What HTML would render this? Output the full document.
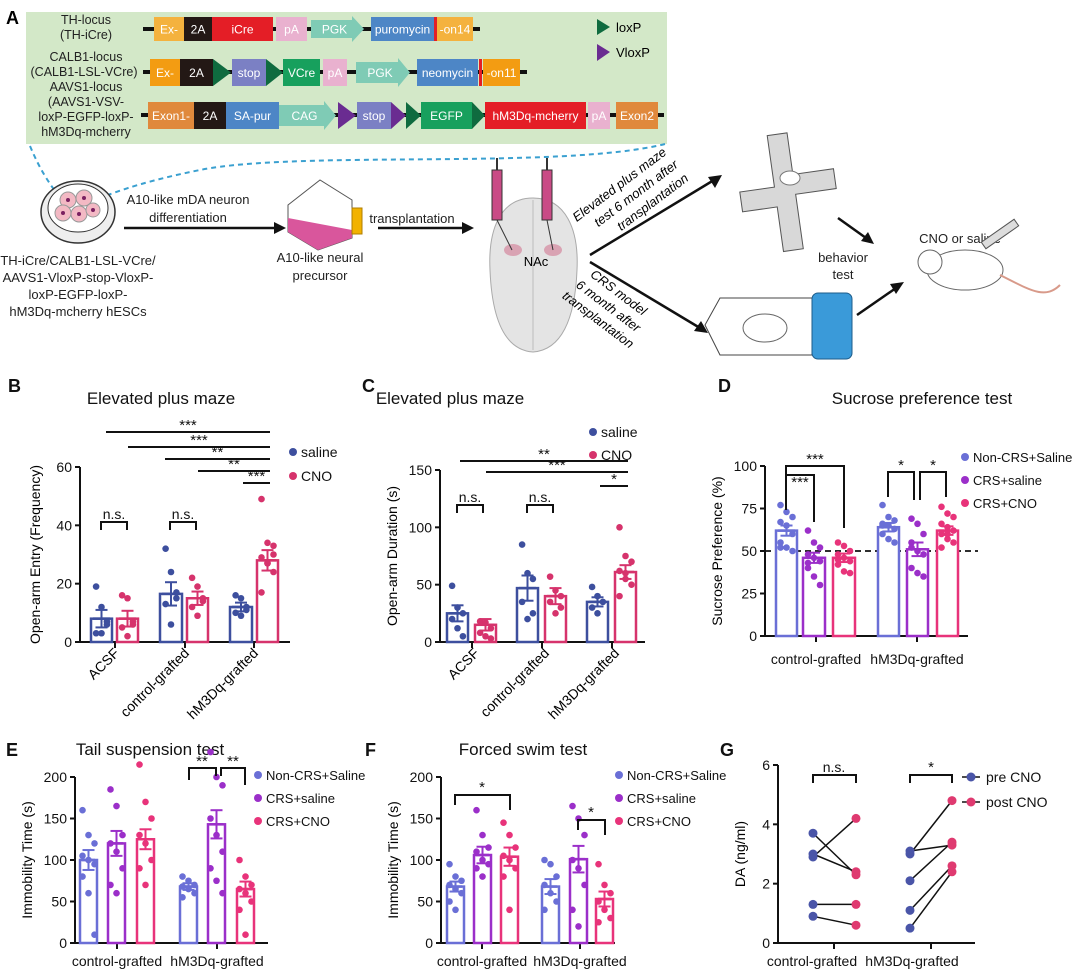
<!DOCTYPE html>
<html><head><meta charset="utf-8"><style>
html,body{margin:0;padding:0;background:#fff}
svg{display:block;font-family:"Liberation Sans",Arial,sans-serif}
</style></head><body>
<svg id="s" width="1080" height="974" viewBox="0 0 1080 974" xmlns="http://www.w3.org/2000/svg">
<rect width="1080" height="974" fill="#fff"/>
<!-- Panel A -->
<text x="6" y="24" font-size="18" font-weight="bold">A</text>
<rect x="26" y="12" width="641" height="132" fill="#d3e8c8"/>
<g font-size="12.5" text-anchor="middle" fill="#222">
<text x="86" y="24">TH-locus</text><text x="86" y="39">(TH-iCre)</text>
<text x="86" y="61">CALB1-locus</text><text x="84" y="76">(CALB1-LSL-VCre)</text>
<text x="86" y="91">AAVS1-locus</text><text x="86" y="106">(AAVS1-VSV-</text>
<text x="86" y="121">loxP-EGFP-loxP-</text><text x="86" y="136">hM3Dq-mcherry</text>
</g>
<g id="dna"></g>
<polygon points="597,19 610,27 597,35" fill="#0f6b3f"/><text x="616" y="32" font-size="13">loxP</text>
<polygon points="597,44 610,52 597,61" fill="#6a2c91"/><text x="616" y="57" font-size="13">VloxP</text>
<!-- dashed curves -->
<path d="M30,146 C40,170 50,185 62,200" stroke="#3aa0d0" stroke-width="2" stroke-dasharray="5,4" fill="none"/>
<path d="M665,144 C560,170 300,150 200,170 C150,180 120,190 100,198" stroke="#3aa0d0" stroke-width="2" stroke-dasharray="5,4" fill="none"/>
<!-- dish -->
<ellipse cx="78" cy="212" rx="37" ry="31" fill="#eee" stroke="#333" stroke-width="1.5"/>
<ellipse cx="78" cy="208" rx="30" ry="24" fill="#fff" stroke="#333"/>
<g fill="#f3b9c4" stroke="#999"><circle cx="68" cy="200" r="8"/><circle cx="84" cy="198" r="8"/><circle cx="63" cy="213" r="8"/><circle cx="79" cy="214" r="8"/><circle cx="93" cy="210" r="7"/></g>
<g fill="#7a2060"><circle cx="68" cy="200" r="2"/><circle cx="84" cy="198" r="2"/><circle cx="63" cy="213" r="2"/><circle cx="79" cy="214" r="2"/><circle cx="93" cy="210" r="2"/></g>
<g font-size="13" text-anchor="middle" fill="#222">
<text x="78" y="265">TH-iCre/CALB1-LSL-VCre/</text><text x="78" y="282">AAVS1-VloxP-stop-VloxP-</text>
<text x="78" y="299">loxP-EGFP-loxP-</text><text x="78" y="316">hM3Dq-mcherry hESCs</text>
<text x="188" y="204">A10-like mDA neuron</text><text x="188" y="222">differentiation</text>
<text x="320" y="262">A10-like neural</text><text x="320" y="280">precursor</text>
<text x="412" y="223">transplantation</text>
<text x="843" y="262">behavior</text><text x="843" y="279">test</text>
<text x="960" y="243">CNO or saline</text>
</g>
<g stroke="#111" stroke-width="2.5" fill="#111">
<line x1="124" y1="228" x2="278" y2="228"/><polygon points="286,228 274,222 274,234" stroke="none"/>
<line x1="378" y1="228" x2="465" y2="228"/><polygon points="474,228 462,222 462,234" stroke="none"/>
<line x1="590" y1="255" x2="714" y2="180"/><polygon points="722,175 708,177 715,188" stroke="none"/>
<line x1="590" y1="262" x2="700" y2="328"/><polygon points="708,333 701,321 694,331" stroke="none"/>
<line x1="838" y1="218" x2="866" y2="238"/><polygon points="874,244 861,241 868,232" stroke="none"/>
<line x1="857" y1="315" x2="896" y2="288"/><polygon points="904,282 890,284 896,294" stroke="none"/>
</g>
<!-- flask -->
<polygon points="288,205 320,180 352,200 352,238 318,250 288,232" fill="#fff" stroke="#555"/>
<polygon points="288,218 352,230 352,238 318,250 288,232" fill="#d9569c"/>
<rect x="352" y="208" width="10" height="26" fill="#f2b200" stroke="#b07d00"/>
<!-- brain -->
<path d="M533,198 C500,198 488,230 490,270 C492,320 505,350 533,352 C561,350 575,320 577,270 C579,230 566,198 533,198Z" fill="#e4e4e4" stroke="#aaa"/>
<line x1="533" y1="200" x2="533" y2="350" stroke="#bbb"/>
<ellipse cx="513" cy="250" rx="9" ry="6" fill="#d9a3b3"/><ellipse cx="553" cy="250" rx="9" ry="6" fill="#d9a3b3"/>
<text x="536" y="266" font-size="13" text-anchor="middle">NAc</text>
<rect x="492" y="170" width="10" height="50" fill="#c94b86" stroke="#333"/><line x1="497" y1="220" x2="512" y2="250" stroke="#333"/>
<rect x="542" y="170" width="10" height="50" fill="#c94b86" stroke="#333"/><line x1="547" y1="220" x2="553" y2="250" stroke="#333"/>
<line x1="497" y1="158" x2="497" y2="170" stroke="#333" stroke-width="2"/><line x1="547" y1="158" x2="547" y2="170" stroke="#333" stroke-width="2"/>
<g font-size="13" font-style="italic" text-anchor="middle">
<text transform="translate(622,188) rotate(-37)"><tspan x="0" y="0">Elevated plus maze</tspan><tspan x="8" y="17">test 6 month after</tspan><tspan x="16" y="34">transplantation</tspan></text>
<text transform="translate(616,296) rotate(37)"><tspan x="0" y="0">CRS model</tspan><tspan x="0" y="17">6 month after</tspan><tspan x="0" y="34">transplantation</tspan></text>
</g>
<!-- maze -->
<polygon points="775,133 795,133 795,175 836,175 836,195 795,195 795,250 775,250 775,205 740,205 740,185 775,185" fill="#d8d8d8" stroke="#555" transform="rotate(-8 790 190)"/>
<ellipse cx="790" cy="178" rx="10" ry="7" fill="#fff" stroke="#777"/>
<!-- tube -->
<polygon points="705,325 720,298 812,298 812,355 720,355" fill="#fff" stroke="#444"/>
<rect x="812" y="293" width="40" height="66" rx="6" fill="#3a9ad9" stroke="#1d5c8a"/>
<ellipse cx="765" cy="328" rx="22" ry="14" fill="#fff" stroke="#666"/>
<!-- mouse -->
<ellipse cx="965" cy="270" rx="38" ry="20" fill="#fff" stroke="#666"/>
<circle cx="930" cy="262" r="12" fill="#fff" stroke="#666"/>
<path d="M1000,275 C1030,290 1045,300 1060,285" stroke="#d89a8a" fill="none" stroke-width="2"/>
<rect x="980" y="230" width="40" height="8" fill="#ddd" stroke="#555" transform="rotate(-35 1000 234)"/>
<g id="charts"></g>
</svg>
<script>
const NS="http://www.w3.org/2000/svg";
function el(p,t,a,txt){const e=document.createElementNS(NS,t);for(const k in a)e.setAttribute(k,a[k]);if(txt!==undefined)e.textContent=txt;p.appendChild(e);return e;}
const dna=document.getElementById('dna');
function line(x1,x2,y){el(dna,'line',{x1,x2,y1:y,y2:y,stroke:'#111','stroke-width':4});}
function box(x1,x2,y1,y2,f,t,tc){el(dna,'rect',{x:x1,y:y1,width:x2-x1,height:y2-y1,fill:f});if(t)el(dna,'text',{x:(x1+x2)/2,y:(y1+y2)/2+4.5,'font-size':12,'text-anchor':'middle',fill:tc||'#fff'},t);}
function arr(x1,x2,y1,y2,t){const m=(y1+y2)/2;el(dna,'polygon',{points:`${x1},${y1+3} ${x2-12},${y1+3} ${x2-12},${y1-1} ${x2},${m} ${x2-12},${y2+1} ${x2-12},${y2-3} ${x1},${y2-3}`,fill:'#7fcbb5'});el(dna,'text',{x:(x1+x2)/2-3,y:m+4.5,'font-size':12,'text-anchor':'middle',fill:'#fff'},t);}
function tri(x1,x2,y1,y2,c){el(dna,'polygon',{points:`${x1},${y1} ${x2},${(y1+y2)/2} ${x1},${y2}`,fill:c});}
const OR='#f4b23e',BK='#231815',RD='#e41e26',PK='#e9b1cf',BL='#4d86c6',ST='#7b80c4',GR='#17a05d',DG='#0f6b3f',PU='#6a2c91',BR='#e0893c';
let a=17,b=41;line(143,480,29);box(154,184,a,b,OR,'Ex-');box(184,212,a,b,BK,'2A');box(212,273,a,b,RD,'iCre');box(276,307,a,b,PK,'pA');arr(311,364,a,b,'PGK');box(371,434,a,b,BL,'puromycin');box(434,437,a,b,RD);box(437,473,a,b,OR,'-on14');
a=59;b=86;line(143,527,72);box(150,180,a,b,'#f39c12','Ex-');box(180,213,a,b,BK,'2A');tri(213,231,a,b,DG);box(232,266,a,b,ST,'stop');tri(266,283,a,b,DG);box(283,320,a,b,GR,'VCre');box(323,347,a,b,PK,'pA');arr(356,410,a,b,'PGK');box(417,478,a,b,BL,'neomycin');box(479,482,a,b,RD);box(483,520,a,b,'#f39c12','-on11');
a=102;b=129;line(141,664,115);box(148,194,a,b,BR,'Exon1-');box(194,226,a,b,BK,'2A');box(226,279,a,b,BL,'SA-pur');arr(279,336,a,b,'CAG');tri(338,356,a,b,PU);box(357,391,a,b,ST,'stop');tri(391,406,a,b,PU);tri(406,421,a,b,DG);box(421,472,a,b,GR,'EGFP');tri(472,485,a,b,DG);box(485,586,a,b,RD,'hM3Dq-mcherry');box(588,610,a,b,PK,'pA');box(616,658,a,b,BR,'Exon2');

const C=document.getElementById('charts');
function T(x,y,s,o){o=o||{};el(C,'text',Object.assign({x,y,'font-size':o.fs||14,'text-anchor':o.a||'middle',fill:'#111'},o.at||{}),s);}
function L(x1,y1,x2,y2,w,c,d){const at={x1,y1,x2,y2,stroke:c||'#111','stroke-width':w||2};if(d)at['stroke-dasharray']=d;el(C,'line',at);}
function P(pts){el(C,'polyline',{points:pts,stroke:'#111','stroke-width':2,fill:'none'});}
function axis(x0,y0,yTop,xEnd,ticks,vmax,lab,labx){L(x0,yTop,x0,y0,2);L(x0,y0,xEnd,y0,2);
 ticks.forEach(t=>{const y=y0-(t/vmax)*(y0-yTop);L(x0-5,y,x0,y,2);T(x0-8,y+5,String(t),{a:'end',fs:14});});
 const cy=(y0+yTop)/2;el(C,'text',{x:0,y:0,'font-size':14,'text-anchor':'middle',transform:`translate(${labx},${cy}) rotate(-90)`},lab);}
function bar(x1,x2,y0,yTop,vmax,mean,sem,pts,col){const sy=v=>y0-v/vmax*(y0-yTop);
 el(C,'rect',{x:x1,y:sy(mean),width:x2-x1,height:y0-sy(mean),fill:'#fff',stroke:col,'stroke-width':2.5});
 const cx=(x1+x2)/2;L(cx,sy(mean+sem),cx,sy(mean-sem),2,col);L(cx-6,sy(mean+sem),cx+6,sy(mean+sem),2,col);L(cx-6,sy(mean-sem),cx+6,sy(mean-sem),2,col);L(x1+2,sy(mean),x2-2,sy(mean),2.5,col);
 pts.forEach((v,i)=>el(C,'circle',{cx:cx+((i%3)-1)*6*(pts.length>6?1:0.9),cy:sy(v),r:3.3,fill:col}));}
function dot(x,y,c,t,fs){el(C,'circle',{cx:x,cy:y,r:4,fill:c});T(x+8,y+5,t,{a:'start',fs:fs||14});}
function sig(x1,x2,y,s){L(x1,y,x2,y,2);T((x1+x2)/2,y-2,s,{fs:15});}
function rlab(x,y,s){el(C,'text',{x:0,y:0,'font-size':14,'text-anchor':'end',transform:`translate(${x},${y}) rotate(-45)`},s);}
const SB='#3d4f9e',CP='#d6336c',NB='#6a6fd6',PP='#9b2fc9',PK2='#e8337a';
// B
T(8,392,'B',{a:'start',fs:18,at:{'font-weight':'bold'}});T(161,404,'Elevated plus maze',{fs:17});
axis(80,642,467,290,[0,20,40,60],60,'Open-arm Entry (Frequency)',40);
[[115,254,185]].forEach(()=>{});[115,185,254].forEach(x=>L(x,642,x,648,2));
bar(91,112,642,467,60,8,3,[19,12,6,3,3,7],SB);bar(117,138,642,467,60,8,2.7,[16,15,7,5,2,6],CP);
bar(160,182,642,467,60,16.5,4,[32,24,15,13,6,17],SB);bar(187,208,642,467,60,15,2.3,[22,19,15,12,9,14],CP);
bar(230,252,642,467,60,12,1.5,[16,15,12,10,9,11],SB);bar(257,278,642,467,60,28,3.5,[49,34,33,29,27,24,17,27,30],CP);
sig(106,270,432,'***');sig(128,270,447,'***');sig(165,270,459,'**');sig(198,270,471,'**');sig(243,270,483,'***');
P('101,530 101,522 127,522 127,530');T(114,519,'n.s.',{fs:14});P('170,530 170,522 196,522 196,530');T(183,519,'n.s.',{fs:14});
dot(293,452,SB,'saline');dot(293,476,CP,'CNO');
rlab(120,654,'ACSF');rlab(190,654,'control-grafted');rlab(259,654,'hM3Dq-grafted');
// C
T(362,392,'C',{a:'start',fs:18,at:{'font-weight':'bold'}});T(450,404,'Elevated plus maze',{fs:17});
axis(440,642,470,645,[0,50,100,150],150,'Open-arm Duration (s)',397);
[472,542,612].forEach(x=>L(x,642,x,648,2));
bar(447,468,642,470,150,25,7,[49,30,25,20,12,5],SB);bar(475,496,642,470,150,15,5,[18,17,12,8,5,3],CP);
bar(517,538,642,470,150,47,11,[85,60,55,35,20,25],SB);bar(545,566,642,470,150,40,7,[57,45,40,35,25,30],CP);
bar(587,608,642,470,150,35,4,[48,40,35,30,25],SB);bar(615,636,642,470,150,61,6,[100,75,70,62,55,50,40,60],CP);
sig(460,628,461,'**');sig(486,628,472,'***');sig(600,628,486,'*');
P('457,513 457,505 483,505 483,513');T(470,502,'n.s.',{fs:14});P('527,513 527,505 553,505 553,513');T(540,502,'n.s.',{fs:14});
dot(593,432,SB,'saline');dot(593,455,CP,'CNO');
rlab(480,654,'ACSF');rlab(550,654,'control-grafted');rlab(620,654,'hM3Dq-grafted');
// D
T(718,392,'D',{a:'start',fs:18,at:{'font-weight':'bold'}});T(922,404,'Sucrose preference test',{fs:17});
axis(765,636,466,968,[0,25,50,75,100],100,'Sucrose Preference  (%)',722);
[816,917].forEach(x=>L(x,636,x,642,2));
L(765,551,978,551,1.8,'#111','6,4');
bar(776,797,636,466,100,62,3,[77,73,70,67,65,60,55,52,50,52],NB);bar(803,825,636,466,100,46,3,[62,55,52,48,46,44,40,35,30,43],PP);bar(833,855,636,466,100,46,2.5,[55,53,50,48,46,44,42,38,37,45],PK2);
bar(878,899,636,466,100,64,2.5,[77,70,68,66,65,63,60,57,55,65],NB);bar(907,928,636,466,100,51,4,[69,66,60,55,50,48,40,37,35,52],PP);bar(937,958,636,466,100,62,2.5,[76,72,70,66,64,62,60,57,55,52,60],PK2);
P('786,510 786,466 844,466 844,528');T(815,464,'***',{fs:15});P('786,475 814,475 814,522');T(800,487,'***',{fs:15});
P('888,497 888,472 914,472 914,500');T(901,470,'*',{fs:15});P('920,500 920,472 946,472 946,497');T(933,470,'*',{fs:15});
dot(965,457,NB,'Non-CRS+Saline',13);dot(965,480,PP,'CRS+saline',13);dot(965,503,PK2,'CRS+CNO',13);
T(816,664,'control-grafted',{fs:14});T(917,664,'hM3Dq-grafted',{fs:14});
// E
T(6,756,'E',{a:'start',fs:18,at:{'font-weight':'bold'}});T(150,755,'Tail suspension test',{fs:17});
axis(75,943,777,268,[0,50,100,150,200],200,'Immobility Time (s)',32);
[117,217].forEach(x=>L(x,943,x,949,2));
bar(80,97,943,777,200,100,12,[160,130,120,105,100,95,80,60,10],NB);bar(108,125,943,777,200,120,15,[185,165,130,120,110,90,70,60],PP);bar(137,154,943,777,200,125,12,[215,170,150,130,120,100,90,70],PK2);
bar(180,197,943,777,200,68,4,[80,75,70,68,65,60,55],NB);bar(208,225,943,777,200,143,17,[230,200,190,150,130,110,90,75,60],PP);bar(237,254,943,777,200,65,9,[100,80,70,65,60,50,40,10],PK2);
P('189,780 189,768 216,768 216,776');T(202,766,'**',{fs:15});P('221,776 221,768 245,768 245,785');T(233,766,'**',{fs:15});
dot(258,775,NB,'Non-CRS+Saline',13);dot(258,798,PP,'CRS+saline',13);dot(258,821,PK2,'CRS+CNO',13);
T(117,966,'control-grafted',{fs:14});T(217,966,'hM3Dq-grafted',{fs:14});
// F
T(365,756,'F',{a:'start',fs:18,at:{'font-weight':'bold'}});T(523,755,'Forced swim test',{fs:17});
axis(441,943,777,615,[0,50,100,150,200],200,'Immobility Time (s)',398);
[482,580].forEach(x=>L(x,943,x,949,2));
bar(447,464,943,777,200,68,6,[95,80,75,70,65,60,50,40],NB);bar(474,491,943,777,200,106,10,[160,130,115,110,100,95,90,80],PP);bar(501,518,943,777,200,104,11,[145,130,115,105,100,90,80,40],PK2);
bar(542,559,943,777,200,68,9,[100,95,80,70,60,50,40],NB);bar(570,587,943,777,200,101,16,[165,150,130,100,90,70,40,20],PP);bar(596,613,943,777,200,53,9,[95,70,60,50,40,30,25],PK2);
P('455,805 455,795 510,795 510,810');T(482,792,'*',{fs:15});P('578,830 578,820 605,820 605,835');T(591,817,'*',{fs:15});
dot(619,775,NB,'Non-CRS+Saline',13);dot(619,798,PP,'CRS+saline',13);dot(619,821,PK2,'CRS+CNO',13);
T(482,966,'control-grafted',{fs:14});T(580,966,'hM3Dq-grafted',{fs:14});
// G
T(720,756,'G',{a:'start',fs:18,at:{'font-weight':'bold'}});
axis(778,943,765,975,[0,2,4,6],6,'DA (ng/ml)',745);
[834,931].forEach(x=>L(x,943,x,949,2));
const gy=v=>943-v/6*178;
const G=[[813,856,[3.7,3.0,2.9,1.3,0.9],[2.3,2.4,4.2,1.3,0.6]],[910,952,[3.1,3.0,2.1,1.1,0.5],[3.3,4.8,3.4,2.6,2.4]]];
G.forEach(g=>{g[2].forEach((v,i)=>L(g[0],gy(v),g[1],gy(g[3][i]),1.5));g[2].forEach(v=>el(C,'circle',{cx:g[0],cy:gy(v),r:4.5,fill:'#4a55a8'}));g[3].forEach(v=>el(C,'circle',{cx:g[1],cy:gy(v),r:4.5,fill:'#df3a70'}));});
P('813,783 813,775 856,775 856,783');T(834,772,'n.s.',{fs:14});P('910,783 910,775 952,775 952,783');T(931,772,'*',{fs:15});
L(962,777,980,777,1.5);el(C,'circle',{cx:971,cy:777,r:4.5,fill:'#4a55a8'});T(986,782,'pre CNO',{a:'start',fs:14});
L(962,802,980,802,1.5);el(C,'circle',{cx:971,cy:802,r:4.5,fill:'#df3a70'});T(986,807,'post CNO',{a:'start',fs:14});
T(812,966,'control-grafted',{fs:14});T(912,966,'hM3Dq-grafted',{fs:14});
</script>
</body></html>
